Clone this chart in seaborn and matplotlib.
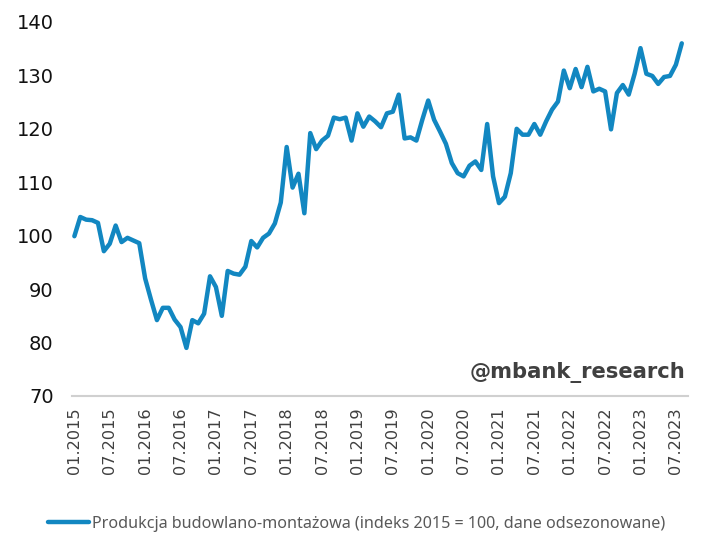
import numpy as np
import pandas as pd
import seaborn as sns
import matplotlib.pyplot as plt

# monthly index, 01.2015 - 08.2023 (2015 = 100, seasonally adjusted)
values = [
    99.9, 103.5, 103.0, 102.9, 102.4, 97.1, 98.5, 101.9, 98.8, 99.6, 99.1, 98.6,
    92.0, 88.0, 84.2, 86.5, 86.5, 84.3, 82.9, 79.0, 84.2, 83.6, 85.4, 92.4,
    90.4, 85.0, 93.4, 92.9, 92.7, 94.2, 99.0, 97.8, 99.6, 100.4, 102.3, 106.2,
    116.6, 109.0, 111.6, 104.2, 119.2, 116.2, 117.8, 118.7, 122.1, 121.8, 122.1, 117.8,
    122.9, 120.4, 122.3, 121.4, 120.3, 122.9, 123.2, 126.4, 118.2, 118.4, 117.8, 121.7,
    125.3, 121.7, 119.5, 117.2, 113.6, 111.7, 111.1, 113.1, 113.9, 112.3, 120.9, 111.1,
    106.1, 107.3, 111.7, 120.0, 118.9, 118.9, 120.9, 118.9, 121.4, 123.6, 125.1, 130.9,
    127.6, 131.2, 127.8, 131.6, 127.0, 127.5, 127.0, 119.9, 126.7, 128.2, 126.4, 130.3,
    135.1, 130.3, 129.9, 128.4, 129.7, 129.9, 132.0, 136.0,
]
months = pd.date_range("2015-01-01", periods=len(values), freq="MS")
series_name = "Produkcja budowlano-montażowa (indeks 2015 = 100, dane odsezonowane)"
yticks = [70, 80, 90, 100, 110, 120, 130, 140]

df = pd.DataFrame({"idx": np.arange(len(values)), "value": values})

sns.set_style("white")
plt.rcParams["font.family"] = ["DejaVu Sans"]

fig = plt.figure(figsize=(7.08, 5.56), dpi=100)
ax = fig.add_axes([0.1013, 0.2878, 0.870, 0.6727])

sns.lineplot(data=df, x="idx", y="value", ax=ax, color="#1287C1",
             linewidth=3.2, label=series_name, legend=False)

ax.set_xlim(-0.45, 104.0)
ax.set_ylim(70, 140)
ax.set_yticks(yticks)
ax.set_yticklabels([str(t) for t in yticks], fontsize=14, color="#111111")
tick_pos = list(range(0, len(values), 6))
ax.set_xticks(tick_pos)
ax.set_xticklabels([months[i].strftime("%m.%Y") for i in tick_pos],
                   rotation=90, fontsize=11.6, color="#404040")
ax.tick_params(axis="y", length=0, pad=13)
ax.tick_params(axis="x", length=0, pad=8)
ax.set_xlabel("")
ax.set_ylabel("")

for s in ["left", "right", "top"]:
    ax.spines[s].set_visible(False)
ax.spines["bottom"].set_color("#d0d0d0")
ax.spines["bottom"].set_linewidth(1.5)

ax.text(0.997, 0.035, "@mbank_research", transform=ax.transAxes,
        ha="right", va="bottom", fontsize=15.2, fontweight="bold",
        color="#404040")

handles, labels = ax.get_legend_handles_labels()
fig.legend(handles, labels, loc="center", bbox_to_anchor=(0.504, 0.0576),
           frameon=False, handlelength=2.5, handletextpad=0.2,
           prop={"family": "Noto Sans", "size": 11.6},
           labelcolor="#595959")

plt.savefig("out.png", dpi=100)
